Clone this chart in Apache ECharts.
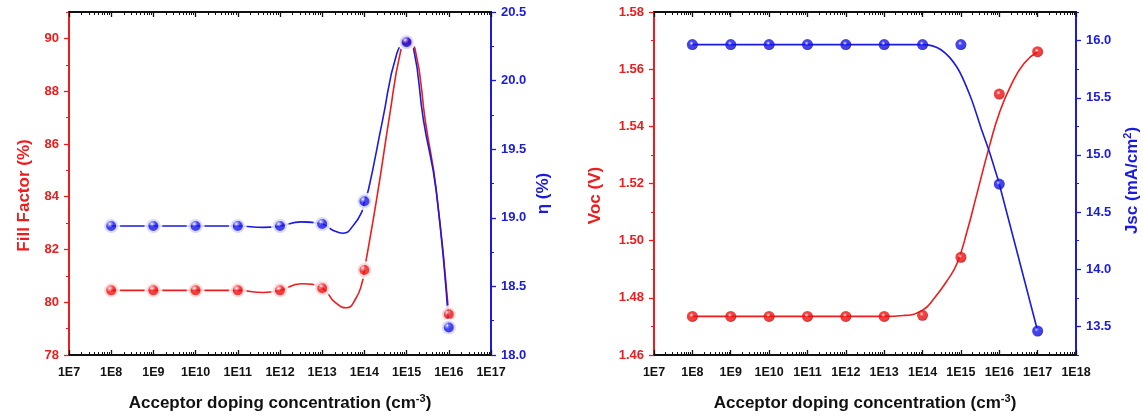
<!DOCTYPE html>
<html>
<head>
<meta charset="utf-8">
<script src="https://cdn.jsdelivr.net/npm/echarts@6/dist/echarts.min.js"></script>
<style>
  html, body { margin: 0; padding: 0; background: #ffffff; }
  #chart { width: 1143px; height: 417px; }
</style>
</head>
<body>
<div id="chart"></div>
<script>
// Acceptor doping concentration, stored as the power of ten (1E8 ... 1E17)
const dopingLeft = [8, 9, 10, 11, 12, 13, 14, 15, 16];
const dopingRight = [8, 9, 10, 11, 12, 13, 14, 15, 16, 17];

// Left panel: fill factor (%) and efficiency (%)
const fillFactor = [80.45, 80.45, 80.45, 80.45, 80.45, 80.53, 81.22, 89.9, 79.54];
const efficiency = [18.94, 18.94, 18.94, 18.94, 18.94, 18.955, 19.12, 20.28, 18.2];

// Right panel: open-circuit voltage (V) and short-circuit current (mA/cm2)
const voc = [1.4735, 1.4735, 1.4735, 1.4735, 1.4735, 1.4735, 1.4739, 1.4942, 1.5513, 1.5661];
const jsc = [15.965, 15.965, 15.965, 15.965, 15.965, 15.965, 15.965, 15.965, 14.745, 13.46];

// Guide curves drawn through / along the measured points [exponent, value]
const fillFactorCurve = [[8, 80.45], [9, 80.45], [10, 80.45], [11, 80.45], [11.6, 80.37], [12, 80.45],
  [12.5, 80.7], [13, 80.53], [13.3, 80.0], [13.58, 79.79], [13.8, 80.15], [13.94, 80.71], [14, 81.22],
  [14.3, 84.0], [14.6, 87.1], [14.85, 89.45], [15, 89.9], [15.2, 89.6], [15.45, 86.8], [15.7, 84.3], [16, 79.54]];
const efficiencyCurve = [[8, 18.94], [9, 18.94], [10, 18.94], [11, 18.94], [11.6, 18.93], [12, 18.94],
  [12.5, 18.97], [13, 18.955], [13.25, 18.91], [13.5, 18.887], [13.75, 18.95], [13.94, 19.045], [14, 19.12],
  [14.1, 19.21], [14.43, 19.71], [14.77, 20.2], [15, 20.28], [15.16, 20.24], [15.4, 19.71], [15.7, 19.2], [16, 18.2]];
const vocCurve = [[8, 1.4735], [10, 1.4735], [12, 1.4735], [13, 1.4735], [13.5, 1.4738], [14, 1.4757],
  [14.3, 1.4798], [14.65, 1.4862], [14.9, 1.4921], [15.17, 1.5037], [15.4, 1.5155], [15.74, 1.5329],
  [16, 1.5446], [16.31, 1.5545], [16.65, 1.5621], [17, 1.5661]];
const jscCurve = [[8, 15.965], [10, 15.965], [12, 15.965], [13, 15.965], [14, 15.965], [14.48, 15.92],
  [14.91, 15.76], [15.26, 15.5], [15.52, 15.24], [15.74, 15.03], [15.87, 14.89], [16, 14.745], [17, 13.46]];

// Axis tick labels
const xTicksLeft = [7, 8, 9, 10, 11, 12, 13, 14, 15, 16, 17];
const xTicksRight = [7, 8, 9, 10, 11, 12, 13, 14, 15, 16, 17, 18];
const ffTicks = [78, 80, 82, 84, 86, 88, 90];
const ffMinor = [79, 81, 83, 85, 87, 89, 91];
const etaTicks = [18.0, 18.5, 19.0, 19.5, 20.0, 20.5];
const etaMinor = [18.25, 18.75, 19.25, 19.75, 20.25];
const vocTicks = [1.46, 1.48, 1.50, 1.52, 1.54, 1.56, 1.58];
const vocMinor = [1.47, 1.49, 1.51, 1.53, 1.55, 1.57];
const jscTicks = [13.5, 14.0, 14.5, 15.0, 15.5, 16.0];
const jscMinor = [13.25, 13.75, 14.25, 14.75, 15.25, 15.75, 16.25];

const RED = '#ee1c1c';
const BLUE = '#1a1ae0';
const FONT = '"Liberation Sans", Arial, sans-serif';

// log-decade minor tick positions (2..9 within each decade)
function decadeMinors(lo, hi) {
  const out = [];
  for (let n = lo; n < hi; n++) {
    for (let k = 2; k <= 9; k++) out.push(n + Math.log10(k));
  }
  return out;
}

function richStyles(color) {
  return {
    t: { fontFamily: FONT, fontWeight: 'bold', fontSize: 17, color: color },
    s: { fontFamily: FONT, fontWeight: 'bold', fontSize: 11, color: color, verticalAlign: 'bottom', padding: [0, 0, 9, 0] }
  };
}

function xAxisPair(grid, lo, hi, ticks, position, withName) {
  const base = {
    type: 'value', gridIndex: grid, min: lo, max: hi, position: position,
    axisLine: { onZero: false, show: true, lineStyle: { color: '#111', width: 2 } },
    splitLine: { show: false }
  };
  const major = Object.assign({}, base, {
    axisTick: { show: true, inside: true, length: 5, customValues: ticks, lineStyle: { color: '#111', width: 1.3 } },
    axisLabel: position === 'bottom' ? {
      show: true, customValues: ticks, margin: 11, color: '#111', fontFamily: FONT, fontWeight: 'bold', fontSize: 12.5,
      formatter: v => '1E' + Math.round(v)
    } : { show: false }
  });
  if (withName) {
    Object.assign(major, {
      name: '{t|Acceptor doping concentration (cm}{s|-3}{t|)}',
      nameLocation: 'middle', nameGap: 38,
      nameTextStyle: { rich: richStyles('#111') }
    });
  }
  const minor = Object.assign({}, base, {
    axisLine: { show: false, onZero: false },
    axisTick: { show: true, inside: true, length: 3, customValues: decadeMinors(lo, hi), lineStyle: { color: '#111', width: 1 } },
    axisLabel: { show: false }
  });
  return [major, minor];
}

function yAxisPair(grid, lo, hi, ticks, minors, position, color, digits, name, nameGap, namePad) {
  const base = {
    type: 'value', gridIndex: grid, min: lo, max: hi, position: position,
    axisLine: { onZero: false, show: true, lineStyle: { color: color, width: 2 } },
    splitLine: { show: false }
  };
  const major = Object.assign({}, base, {
    axisTick: { show: true, inside: false, length: 5, customValues: ticks, lineStyle: { color: color, width: 1.3 } },
    axisLabel: {
      show: true, customValues: ticks, margin: 10, color: color, fontFamily: FONT, fontWeight: 'bold', fontSize: 13,
      formatter: v => v.toFixed(digits)
    },
    name: name, nameLocation: 'middle', nameGap: nameGap, nameRotate: 90,
    nameTextStyle: { padding: namePad, rich: richStyles(color) }
  });
  const minor = Object.assign({}, base, {
    axisLine: { show: false, onZero: false },
    axisTick: { show: true, inside: false, length: 3, customValues: minors, lineStyle: { color: color, width: 1 } },
    axisLabel: { show: false }
  });
  return [major, minor];
}

// glossy sphere fill for the markers
function sphere(glow, base, dark) {
  return {
    type: 'radial', x: 0.42, y: 0.38, r: 0.6,
    colorStops: [
      { offset: 0, color: '#ffffff' },
      { offset: 0.14, color: glow },
      { offset: 0.34, color: base },
      { offset: 0.8, color: base },
      { offset: 1, color: dark }
    ]
  };
}
const redBall = sphere('#ff8080', '#ee1010', '#b00000');
const blueBall = sphere('#8080ff', '#1414e6', '#00009a');

const zip = (xs, ys) => xs.map((x, i) => [x, ys[i]]);

const xAxes = [].concat(
  xAxisPair(0, 7, 17, xTicksLeft, 'bottom', true),   // 0,1
  xAxisPair(0, 7, 17, xTicksLeft, 'top', false),     // 2,3
  xAxisPair(1, 7, 18, xTicksRight, 'bottom', true),  // 4,5
  xAxisPair(1, 7, 18, xTicksRight, 'top', false)     // 6,7
);

const yAxes = [].concat(
  yAxisPair(0, 78, 91, ffTicks, ffMinor, 'left', RED, 0, '{t|Fill Factor (%)}', 36, [0, 24, 0, 0]),        // 0,1
  yAxisPair(0, 18, 20.5, etaTicks, etaMinor, 'right', BLUE, 1, '{t|η (%)}', 44, [0, 20, 0, 0]),            // 2,3
  yAxisPair(1, 1.46, 1.58, vocTicks, vocMinor, 'left', RED, 2, '{t|Voc (V)}', 50, [0, 24, 0, 0]),          // 4,5
  yAxisPair(1, 13.25, 16.25, jscTicks, jscMinor, 'right', BLUE, 1, '{t|Jsc (mA/cm}{s|2}{t|)}', 46, [0, 0, 0, 6]) // 6,7
);

const option = {
  backgroundColor: '#ffffff',
  animation: false,
  grid: [
    { left: 69, right: 652, top: 12, bottom: 62 },
    { left: 654, right: 67, top: 12, bottom: 62 }
  ],
  xAxis: xAxes,
  yAxis: yAxes,
  series: [
    // left panel
    { type: 'line', xAxisIndex: 0, yAxisIndex: 0, data: fillFactorCurve, smooth: true, showSymbol: false,
      lineStyle: { color: RED, width: 1.6 }, z: 2 },
    { type: 'line', xAxisIndex: 0, yAxisIndex: 2, data: efficiencyCurve, smooth: true, showSymbol: false,
      lineStyle: { color: BLUE, width: 1.6 }, z: 2 },
    { type: 'scatter', xAxisIndex: 0, yAxisIndex: 0, data: zip(dopingLeft, fillFactor), symbolSize: 14,
      itemStyle: { color: redBall, borderColor: '#ffffff', borderWidth: 4 }, z: 5 },
    { type: 'scatter', xAxisIndex: 0, yAxisIndex: 2, data: zip(dopingLeft, efficiency), symbolSize: 14,
      itemStyle: { color: blueBall, borderColor: '#ffffff', borderWidth: 4 }, z: 6 },
    // right panel
    { type: 'line', xAxisIndex: 4, yAxisIndex: 4, data: vocCurve, smooth: true, showSymbol: false,
      lineStyle: { color: RED, width: 1.6 }, z: 2 },
    { type: 'line', xAxisIndex: 4, yAxisIndex: 6, data: jscCurve, smooth: 0.3, showSymbol: false,
      lineStyle: { color: BLUE, width: 1.6 }, z: 2 },
    { type: 'scatter', xAxisIndex: 4, yAxisIndex: 4, data: zip(dopingRight, voc), symbolSize: 11,
      itemStyle: { color: redBall }, z: 5 },
    { type: 'scatter', xAxisIndex: 4, yAxisIndex: 6, data: zip(dopingRight, jsc), symbolSize: 11,
      itemStyle: { color: blueBall }, z: 6 }
  ]
};

const chart = echarts.init(document.getElementById('chart'), null, { renderer: 'canvas' });
chart.setOption(option);
</script>
</body>
</html>
